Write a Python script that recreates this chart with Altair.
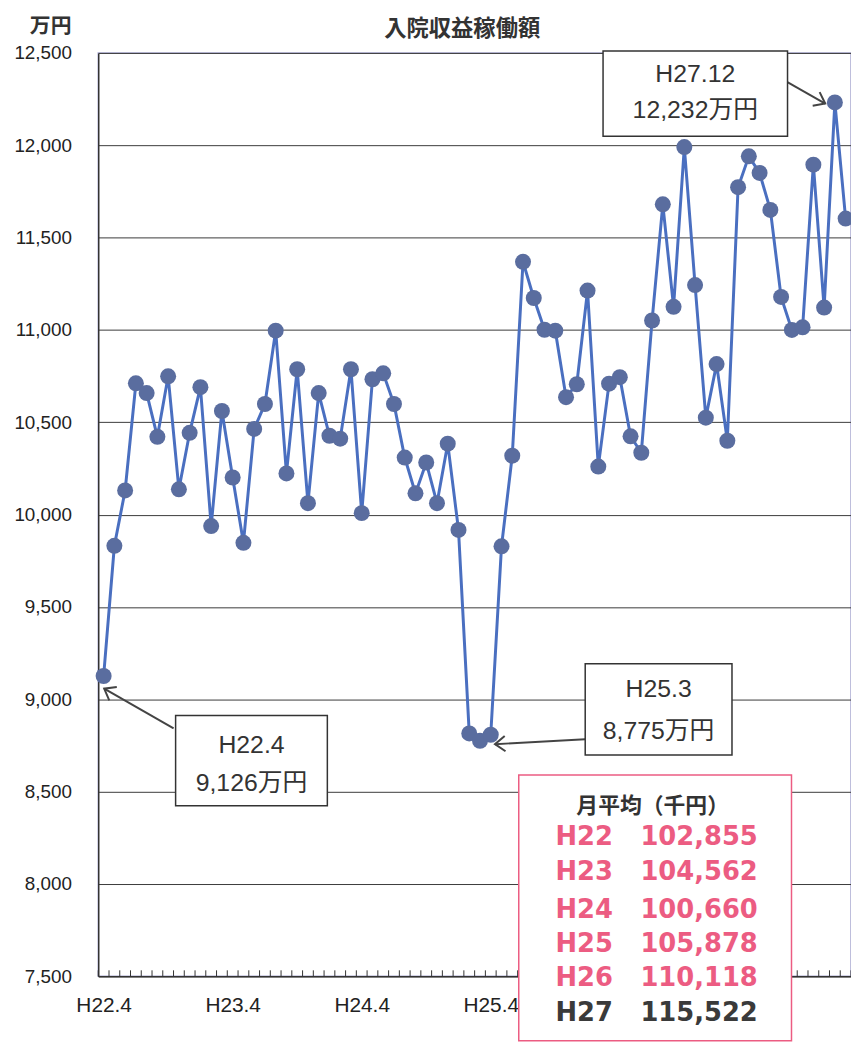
import altair as alt
import pandas as pd

# ---------------- data ----------------
values = [9126, 9831, 10131, 10711, 10658, 10421, 10749, 10137, 10443, 10690, 9938, 10561,
          10201, 9847, 10464, 10599, 10996, 10223, 10787, 10062, 10658, 10427, 10411, 10787,
          10008, 10733, 10765, 10599, 10309, 10115, 10282, 10062, 10384, 9917, 8815, 8775,
          8808, 9828, 10319, 11369, 11173, 11001, 10996, 10636, 10706, 11213, 10260, 10709,
          10744, 10424, 10335, 11051, 11680, 11125, 11990, 11243, 10525, 10815, 10400, 11773,
          11940, 11850, 11650, 11179, 11000, 11014, 11895, 11121, 12232, 11603]
tick_labels = ["H22.4", "H23.4", "H24.4", "H25.4"]
y_ticks = [7500, 8000, 8500, 9000, 9500, 10000, 10500, 11000, 11500, 12000, 12500]
title_text = "入院収益稼働額"
unit_text = "万円"
annot_line1 = ["H22.4", "H25.3", "H27.12"]
annot_line2 = ["9,126万円", "8,775万円", "12,232万円"]
avg_title = "月平均（千円）"
avg_years = ["H22", "H23", "H24", "H25", "H26", "H27"]
avg_values = ["102,855", "104,562", "100,660", "105,878", "110,118", "115,522"]

# ---------------- layout (pixels, plot-area coords) ----------------
W, H = 759, 931
LINE_COLOR = "#4a6fc0"
PT_COLOR = "#5a6d9f"
PINK = "#ec5c82"
DARK = "#3a3a3a"

annot_boxes = [(78, 231, 668, 759), (491, 639, 616, 708), (509, 695, -2, 84)]
annot_text_pos = [(154.5, 698, 736), (565, 641, 684), (602, 21, 58)]
arrows = [((76, 681), (6, 641), 209.7), ((491, 692), (400, 697), 176.9), ((694, 29), (733, 51), 27.1)]
pink_box = (424, 699, 728, 996)
pink_title_pos = (559, 759)
pink_rows_y = [791, 826, 864, 899, 933, 968]
pink_year_x, pink_val_x = 461, 665

xscale = alt.Scale(domain=[-0.5, len(values) - 0.5], nice=False, zero=False)
yscale = alt.Scale(domain=[7500, 12500], nice=False, zero=False)

label_expr = "[" + ",".join("'%s'" % t for t in tick_labels) + "][datum.value / 12]"
xaxis = alt.Axis(values=[12 * k for k in range(len(tick_labels))], labelExpr=label_expr,
                 title=None, grid=False, ticks=False, domainColor="#333", domainWidth=1.5,
                 labelFont="Liberation Sans Narrow, Arial Narrow, Liberation Sans",
                 labelFontSize=21, labelColor="#222", labelPadding=19)
yaxis = alt.Axis(values=y_ticks, format=",.0f", title=None, ticks=False, grid=True,
                 gridColor="#3a3a3a", gridWidth=1, domainColor="#333", domainWidth=1.5,
                 labelFont="Liberation Sans", labelFontSize=19, labelColor="#222",
                 labelPadding=27)

df = pd.DataFrame({"i": list(range(len(values))), "v": values})
base = alt.Chart(df).encode(
    x=alt.X("i:Q", scale=xscale, axis=xaxis),
    y=alt.Y("v:Q", scale=yscale, axis=yaxis),
)
line = base.mark_line(color=LINE_COLOR, strokeWidth=3)
pts = base.mark_circle(size=260, color=PT_COLOR, opacity=1)

ticks_df = pd.DataFrame({"i": [k + 0.5 for k in range(-1, len(values))]})
month_ticks = alt.Chart(ticks_df).mark_rule(color="#333", strokeWidth=1).encode(
    x=alt.X("i:Q", scale=xscale), y=alt.value(H), y2=alt.value(H - 6))

one = pd.DataFrame({"k": [0]})
layers = [line, pts, month_ticks]

# title and unit
layers.append(alt.Chart(pd.DataFrame({"t": [title_text]})).mark_text(
    font="Noto Sans CJK JP", fontSize=22.5, fontWeight="bold", color="#333", baseline="middle"
).encode(text="t:N", x=alt.value(367), y=alt.value(-24)))
layers.append(alt.Chart(pd.DataFrame({"t": [unit_text]})).mark_text(
    font="Noto Sans CJK JP", fontSize=21, fontWeight="bold", color="#333", align="right",
    baseline="middle").encode(text="t:N", x=alt.value(-27), y=alt.value(-26)))

# callouts
for k in range(len(annot_line1)):
    (tx, ty), (hx, hy), ang = arrows[k]
    layers.append(alt.Chart(one).mark_rule(color="#444", strokeWidth=2).encode(
        x=alt.value(tx), y=alt.value(ty), x2=alt.value(hx), y2=alt.value(hy)))
    layers.append(alt.Chart(one).mark_point(
        shape="M -1 -0.75 L 0 0 L -1 0.75", filled=False, stroke="#444", strokeWidth=2,
        size=420, angle=ang, opacity=1).encode(x=alt.value(hx), y=alt.value(hy)))
    x0, x1, y0, y1 = annot_boxes[k]
    layers.append(alt.Chart(one).mark_rect(fill="white", stroke="#333", strokeWidth=1.5).encode(
        x=alt.value(x0), x2=alt.value(x1), y=alt.value(y0), y2=alt.value(y1)))
    cx, ly1, ly2 = annot_text_pos[k]
    for txt, yy in ((annot_line1[k], ly1), (annot_line2[k], ly2)):
        layers.append(alt.Chart(pd.DataFrame({"t": [txt]})).mark_text(
            font="Liberation Sans, Noto Sans CJK JP", fontSize=25, color="#333",
            baseline="middle").encode(text="t:N", x=alt.value(cx), y=alt.value(yy)))

# monthly-average box
px0, px1, py0, py1 = pink_box
layers.append(alt.Chart(one).mark_rect(fill="white", stroke=PINK, strokeWidth=1.5).encode(
    x=alt.value(px0), x2=alt.value(px1), y=alt.value(py0), y2=alt.value(py1)))
layers.append(alt.Chart(pd.DataFrame({"t": [avg_title]})).mark_text(
    font="Noto Sans CJK JP", fontSize=22, fontWeight="bold", color="#333", baseline="middle"
).encode(text="t:N", x=alt.value(pink_title_pos[0]), y=alt.value(pink_title_pos[1])))
for r in range(len(avg_years)):
    col = DARK if r == len(avg_years) - 1 else PINK
    layers.append(alt.Chart(pd.DataFrame({"t": [avg_years[r]]})).mark_text(
        font="DejaVu Sans", fontSize=26, fontWeight="bold", color=col, align="left",
        baseline="middle").encode(text="t:N", x=alt.value(pink_year_x), y=alt.value(pink_rows_y[r])))
    layers.append(alt.Chart(pd.DataFrame({"t": [avg_values[r]]})).mark_text(
        font="DejaVu Sans", fontSize=26, fontWeight="bold", color=col, align="right",
        baseline="middle").encode(text="t:N", x=alt.value(pink_val_x), y=alt.value(pink_rows_y[r])))

chart = alt.layer(*layers).properties(
    width=W, height=H,
    autosize=alt.AutoSizeParams(type="none"),
    padding={"left": 91, "top": 41, "right": 0, "bottom": 66},
    background="white",
).configure_view(stroke="#a8a8d0", strokeWidth=1.5)

chart.save("out.html", embed_options={"renderer": "svg", "actions": False})
